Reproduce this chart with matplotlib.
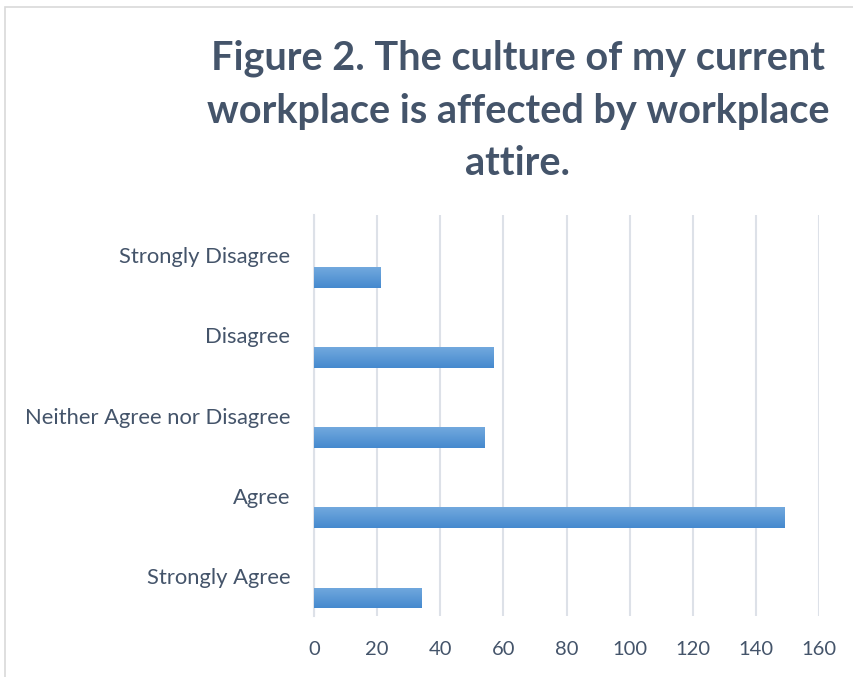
import numpy as np
import matplotlib
matplotlib.use("Agg")
import matplotlib.pyplot as plt
from matplotlib.patches import Rectangle

plt.rcParams['font.family'] = ['Lato', 'DejaVu Sans']

# categories from bottom to top (Excel order)
categories = ["Strongly Agree", "Agree", "Neither Agree nor Disagree", "Disagree", "Strongly Disagree"]
counts = [34, 149, 54, 57, 21]
xticks = [0, 20, 40, 60, 80, 100, 120, 140, 160]
title = "Figure 2. The culture of my current\nworkplace is affected by workplace\nattire."

text_color = "#44546A"
grid_color = "#DDE1E8"

fig = plt.figure(figsize=(8.54, 6.77), dpi=100)
ax = fig.add_axes([314/854, 1 - 616/677, (819 - 314)/854, (616 - 215)/677])

y = np.arange(len(categories))
bars = ax.barh(y - 0.275, counts, height=0.26, color="#5B9BD5", edgecolor="none", zorder=2)

# vertical gradient inside each bar (light on top, darker at bottom)
grad = np.linspace(0, 1, 64).reshape(-1, 1)
cmap = matplotlib.colors.LinearSegmentedColormap.from_list("g", ["#72A9DE", "#4589CE"])
for b in bars:
    x0, y0, w, h = b.get_x(), b.get_y(), b.get_width(), b.get_height()
    im = ax.imshow(grad, cmap=cmap, aspect="auto", extent=(x0, x0 + w, y0, y0 + h),
                   origin="upper", zorder=3)
    im.set_clip_path(b)

ax.set_xlim(0, 160)
ax.set_ylim(-0.5, len(categories) - 0.5)
ax.set_xticks(xticks)
ax.set_yticks(y)
ax.set_yticklabels(categories)

ax.grid(axis="x", color=grid_color, linewidth=1.5, zorder=0)
ax.set_axisbelow(True)
for s in ["top", "right", "bottom"]:
    ax.spines[s].set_visible(False)
ax.spines["left"].set_color(grid_color)
ax.spines["left"].set_linewidth(1.5)
ax.tick_params(axis="both", length=0, labelcolor=text_color)
ax.tick_params(axis="y", pad=17, labelsize=15.8)
ax.tick_params(axis="x", pad=18, labelsize=14.5)

fig.text(518/854, 1 - 111/677, title, ha="center", va="center", fontsize=28.5,
         fontweight="bold", color=text_color, linespacing=1.52)

# chart border
fig.patches.append(Rectangle((5/854, -0.1), 1.2, 1 - 7/677 + 0.1, transform=fig.transFigure,
                             fill=False, edgecolor="#D9D9D9", linewidth=1.2))

fig.savefig("out.png", dpi=100)
